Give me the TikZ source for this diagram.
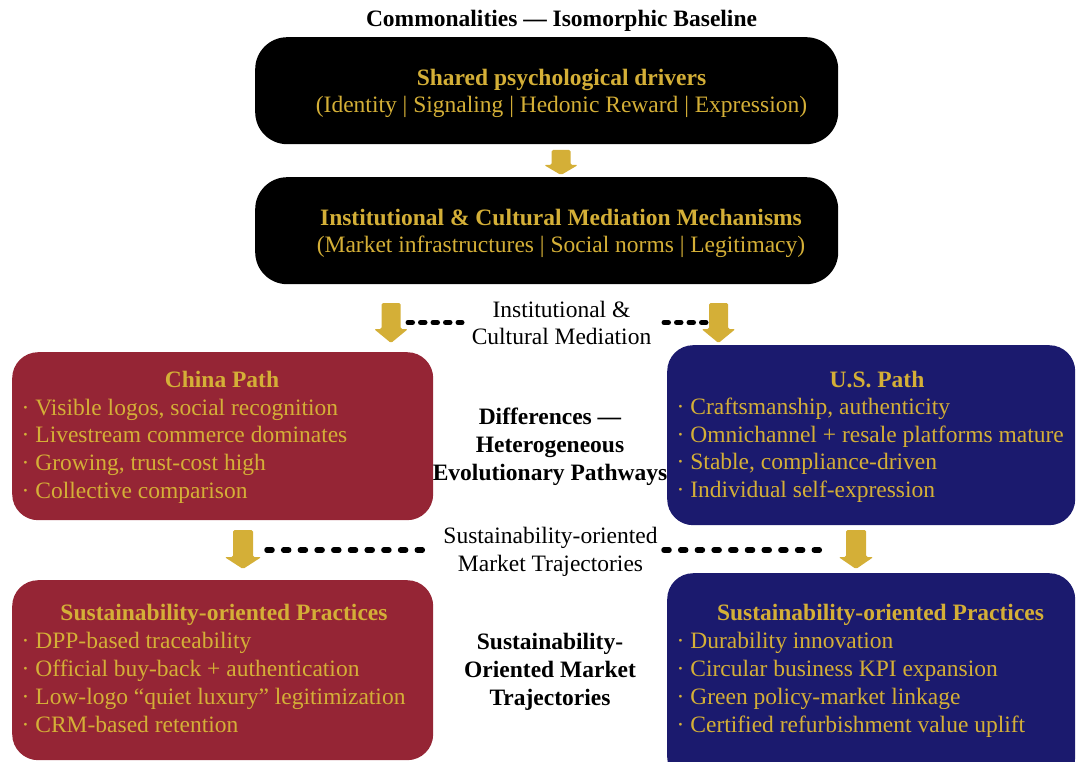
\documentclass[tikz,border=0pt]{standalone}
\usepackage{fontspec}
\setmainfont{Liberation Serif}
\definecolor{gold}{HTML}{D4AF37}
\definecolor{pathred}{HTML}{952535}
\definecolor{pathnavy}{HTML}{1B1A6E}
% #1 x, #2 top, #3 head start, #4 tip, #5 shaft half width, #6 head half width, #7 name
\newcommand\goldarrow[7]{%
  \coordinate (#7) at (#1,#2);
  \fill[arrowfill] ({#1-#5},#2) -- ({#1+#5},#2) -- ({#1+#5},#3) -- ({#1+#6},#3)
    -- (#1,#4) -- ({#1-#6},#3) -- ({#1-#5},#3) -- cycle;}
\begin{document}
\begin{tikzpicture}[x=1pt,y=-1pt,
  box/.style={anchor=north west, inner sep=0pt, draw=none},
  arrowfill/.style={fill=gold, rounded corners=1.5pt},
  tx/.style={inner sep=0pt, anchor=base, font=\fontsize{23.5}{27.8}\selectfont},
  goldtx/.style={tx, text=gold},
  goldtitle/.style={tx, text=gold, font=\fontsize{23.5}{27.8}\selectfont\bfseries},
  bullet/.style={tx, text=gold, anchor=base west},
  blacktitle/.style={tx, text=black, font=\fontsize{23.5}{27.8}\selectfont\bfseries},
  dots/.style={line width=5pt, line cap=round, dash pattern=on 4.5pt off 8pt},
  dotslong/.style={line width=5.5pt, line cap=round, dash pattern=on 5pt off 11.7pt}]
\useasboundingbox (0,0) rectangle (1076,762);
\clip (0,0) rectangle (1076,762);

% title
\node[blacktitle] (ttl) at (561.5,27) {Commonalities — Isomorphic Baseline};

% black boxes
\node[box, fill=black, rounded corners=32pt, minimum width=583pt, minimum height=107pt] (shared) at (255,37) {};
\node[goldtitle] (sharedt) at (561.5,85.5) {Shared psychological drivers};
\node[goldtx] (shareds) at (561.5,112.5) {(Identity | Signaling | Hedonic Reward | Expression)};

\goldarrow{561}{150}{165}{175}{9.5}{17}{a1}

\node[box, fill=black, rounded corners=32pt, minimum width=583pt, minimum height=107pt] (inst) at (255,177) {};
\node[goldtitle] (instt) at (561,225.2) {Institutional \& Cultural Mediation Mechanisms};
\node[goldtx] (insts) at (561,252.5) {(Market infrastructures | Social norms | Legitimacy)};

% mediation row
\goldarrow{391}{303}{329}{343}{9.5}{17}{a2l}
\goldarrow{718.5}{303}{329}{343}{9.5}{17}{a2r}
\node[tx] (med1) at (561.5,317.5) {Institutional \&};
\node[tx] (med2) at (561.5,344.2) {Cultural Mediation};
\coordinate (d1a) at (408,322.5);
\coordinate (d1b) at (462,322.5);
\coordinate (d1c) at (664,322.5);
\coordinate (d1d) at (707,322.5);
\draw[dots] (d1a) -- (d1b);
\draw[dots] (d1c) -- (d1d);

% path boxes
\node[box, fill=pathred, rounded corners=26pt, minimum width=421pt, minimum height=168pt] (china) at (12,352) {};
\node[goldtitle] (chinat) at (222,387) {China Path};
\foreach \t [count=\i] in {{Visible logos, social recognition},{Livestream commerce dominates},{Growing, trust-cost high},{Collective comparison}}
  \node[bullet] (cb\i) at (21.5,{415+27.7*(\i-1)}) {· \t};

\node[box, fill=pathnavy, rounded corners=26pt, minimum width=408pt, minimum height=180pt] (us) at (667,345) {};
\node[goldtitle] (ust) at (877,387) {U.S. Path};
\foreach \t [count=\i] in {{Craftsmanship, authenticity},{Omnichannel + resale platforms mature},{Stable, compliance-driven},{Individual self-expression}}
  \node[bullet] (ub\i) at (676.5,{414.5+27.7*(\i-1)}) {· \t};

\node[blacktitle] (diff1) at (550,424.2) {Differences —};
\node[blacktitle] (diff2) at (550,452.2) {Heterogeneous};
\node[blacktitle] (diff3) at (550,480.2) {Evolutionary Pathways};

% trajectory row
\goldarrow{243}{530}{557}{569}{10}{18.5}{a3l}
\goldarrow{856}{530}{557}{569}{10}{17.5}{a3r}
\node[tx] (traj1) at (550.5,543.7) {Sustainability-oriented};
\node[tx] (traj2) at (550.5,571) {Market Trajectories};
\coordinate (d2a) at (267,550);
\coordinate (d2b) at (428,550);
\coordinate (d2c) at (664,550);
\coordinate (d2d) at (825,550);
\draw[dotslong] (d2a) -- (d2b);
\draw[dotslong] (d2c) -- (d2d);

% practice boxes
\node[box, fill=pathred, rounded corners=26pt, minimum width=421pt, minimum height=180pt] (chinap) at (12,580) {};
\node[goldtitle] (chinapt) at (224,620) {Sustainability-oriented Practices};
\foreach \t [count=\i] in {{DPP-based traceability},{Official buy-back + authentication},{Low-logo “quiet luxury” legitimization},{CRM-based retention}}
  \node[bullet] (cp\i) at (21.5,{648+28*(\i-1)}) {· \t};

\node[box, fill=pathnavy, rounded corners=26pt, minimum width=408pt, minimum height=210pt] (usp) at (667,573) {};
\node[goldtitle] (uspt) at (880.5,620) {Sustainability-oriented Practices};
\foreach \t [count=\i] in {{Durability innovation},{Circular business KPI expansion},{Green policy-market linkage},{Certified refurbishment value uplift}}
  \node[bullet] (up\i) at (676.5,{648+28*(\i-1)}) {· \t};

\node[blacktitle] (sus1) at (550,649.5) {Sustainability-};
\node[blacktitle] (sus2) at (550,677.5) {Oriented Market};
\node[blacktitle] (sus3) at (550,705.5) {Trajectories};
\end{tikzpicture}
\end{document}
